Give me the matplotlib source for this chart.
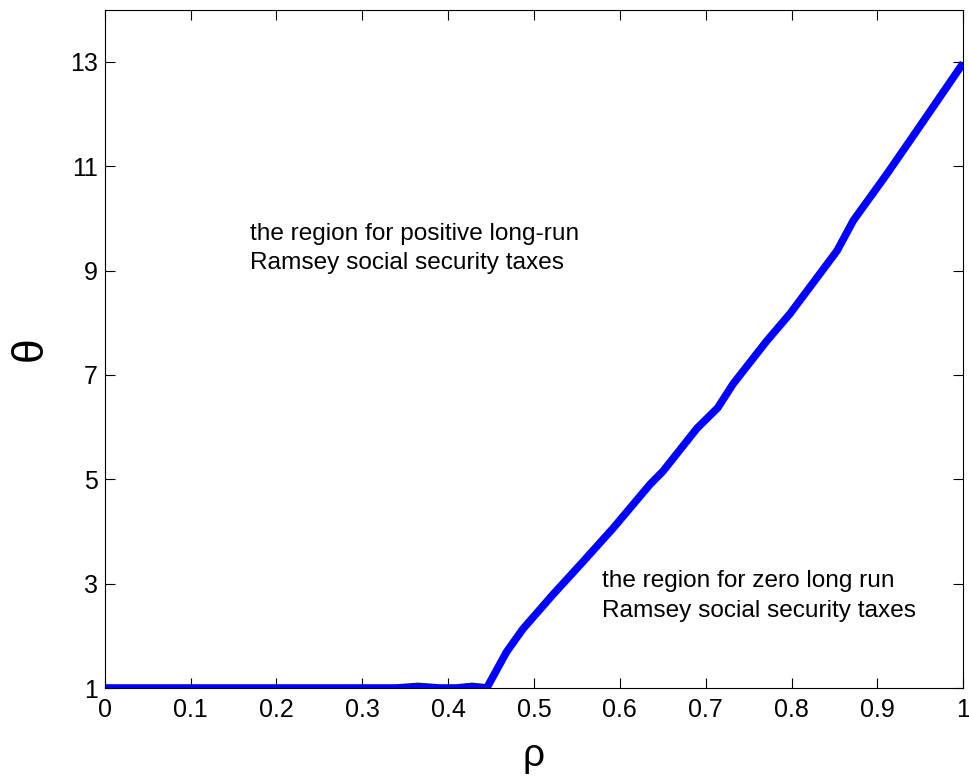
import matplotlib
matplotlib.use('Agg')
import matplotlib.pyplot as plt

# theta threshold curve
rho = [0.0, 0.1, 0.2, 0.3, 0.34, 0.365, 0.39, 0.41, 0.428, 0.44, 0.445,
       0.468, 0.487, 0.522, 0.557, 0.592, 0.635, 0.65, 0.69, 0.714,
       0.732, 0.771, 0.798, 0.853, 0.872, 0.911, 0.95, 1.0]
theta = [1.0, 1.0, 1.0, 1.0, 1.0, 1.03, 1.0, 1.0, 1.03, 1.01, 1.0,
         1.69, 2.13, 2.79, 3.42, 4.06, 4.9, 5.15, 5.98, 6.37,
         6.83, 7.65, 8.17, 9.38, 9.96, 10.85, 11.78, 12.98]

xticks = [0, 0.1, 0.2, 0.3, 0.4, 0.5, 0.6, 0.7, 0.8, 0.9, 1]
xtick_labels = ['0', '0.1', '0.2', '0.3', '0.4', '0.5', '0.6', '0.7', '0.8', '0.9', '1']
yticks = [1, 3, 5, 7, 9, 11, 13]

plt.rcParams['font.family'] = ['Liberation Sans', 'DejaVu Sans']

fig = plt.figure(figsize=(9.7, 7.76), dpi=100)
ax = fig.add_axes([0.108, 0.1134, 0.885, 0.874])

ax.plot(rho, theta, color='#0000ff', linewidth=5.5, solid_capstyle='butt',
        solid_joinstyle='round')

ax.set_xlim(0, 1)
ax.set_ylim(1, 14)
ax.set_xticks(xticks)
ax.set_xticklabels(xtick_labels)
ax.set_yticks(yticks)
ax.tick_params(direction='in', length=7, width=0.8, top=True, right=True,
               labelsize=18)
ax.tick_params(axis='x', pad=7)
ax.tick_params(axis='y', pad=5)

ax.set_xlabel('\u03c1', fontsize=28, labelpad=12)
ax.set_ylabel('\u03b8', fontsize=32, labelpad=14)

ax.text(0.169, 9.92, 'the region for positive long-run\nRamsey social security taxes',
        fontsize=17.6, ha='left', va='top', linespacing=1.45)
ax.text(0.579, 3.26, 'the region for zero long run\nRamsey social security taxes',
        fontsize=17.6, ha='left', va='top', linespacing=1.45)

fig.savefig('out.png', dpi=100)
